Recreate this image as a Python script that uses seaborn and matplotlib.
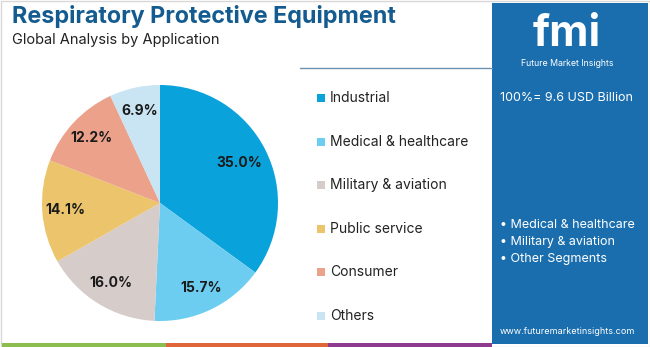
import matplotlib
matplotlib.use("Agg")
import matplotlib.pyplot as plt
import seaborn as sns
from matplotlib.patches import Rectangle

categories = ["Industrial", "Medical & healthcare", "Military & aviation",
              "Public service", "Consumer", "Others"]
shares = [35.0, 15.7, 16.0, 14.1, 12.2, 6.9]
colors = ["#0AA2DB", "#6DCDF1", "#D6CCC9", "#ECC46C", "#EBA18A", "#C9E4F2"]
title = "Respiratory Protective Equipment"
subtitle = "Global Analysis by Application"
total_text = "100%= 9.6 USD Billion"
bullets = ["Medical & healthcare", "Military & aviation", "Other Segments"]
url = "www.futuremarketinsights.com"

sns.set_theme(style="white")
plt.rcParams['font.family'] = ['Inter', 'DejaVu Sans']

W, H = 650, 347
fig = plt.figure(figsize=(6.5, 3.47), dpi=100)
fig.patch.set_facecolor("white")

def fx(x): return x / W
def fy(y): return 1 - y / H

# background decorations
bg = fig.add_axes([0, 0, 1, 1])
bg.set_xlim(0, W); bg.set_ylim(H, 0); bg.axis("off")
bg.add_patch(Rectangle((0.5, 0.5), W - 1, H - 1, fill=False, ec="#D8D8D8", lw=1))
bg.add_patch(Rectangle((492, 3), 156, 341, color="#1A6EAE", lw=0))
bg.plot([300, 492], [68, 68], color="#6C90B0", lw=1)
bg.add_patch(Rectangle((2, 343), 164, 4, color="#8BBE4F", lw=0))
bg.add_patch(Rectangle((166, 343), 162, 4, color="#E0663A", lw=0))
bg.add_patch(Rectangle((328, 343), 164, 4, color="#8E3B8F", lw=0))

fig.text(fx(12), fy(17), title, fontsize=16.8, fontweight="bold", color="#145C90",
         va="center", ha="left")
fig.text(fx(12), fy(40), subtitle, fontsize=10.5, color="#222222", va="center", ha="left")

# logo approximation
fig.text(fx(567), fy(46), "fmi", fontsize=31, fontweight="bold", color="white",
         ha="center", va="baseline")
fig.text(fx(567), fy(63), "Future Market Insights", fontsize=6.3, color="white",
         ha="center", va="center")
fig.text(fx(567), fy(98), total_text, fontsize=9, color="white", ha="center", va="center")
for i, b in enumerate(bullets):
    fig.text(fx(500), fy(225 + 17 * i), "• " + b, fontsize=9, color="white",
             ha="left", va="center")
fig.text(fx(567), fy(332), url, fontsize=6.5, color="white", ha="center", va="center")

# pie
cx, cy, r = 160, 203, 118
ax = fig.add_axes([fx(cx - r), fy(cy + r), 2 * r / W, 2 * r / H])
wedges, texts, autotexts = ax.pie(
    shares, colors=colors, startangle=90, counterclock=False,
    autopct=lambda p: f"{p:.1f}%", pctdistance=0.8,
    wedgeprops=dict(linewidth=0))
for t, v in zip(autotexts, shares):
    t.set_text(f"{v:.1f}%")
    t.set_fontsize(10); t.set_fontweight("bold"); t.set_color("#1A1A1A")
autotexts[0].set_position((0.75 * 0.891, 0.75 * 0.454))
ax.set_xlim(-1, 1); ax.set_ylim(-1, 1)
ax.set_aspect("equal")

# legend
for i, (c, lab) in enumerate(zip(colors, categories)):
    y = 98 + 43.6 * i
    bg.add_patch(Rectangle((317, y - 4), 8, 8, color=c, lw=0))
    fig.text(fx(330), fy(y), lab, fontsize=10, color="#222222", ha="left", va="center")

fig.savefig("out.png", dpi=100, facecolor="white")
